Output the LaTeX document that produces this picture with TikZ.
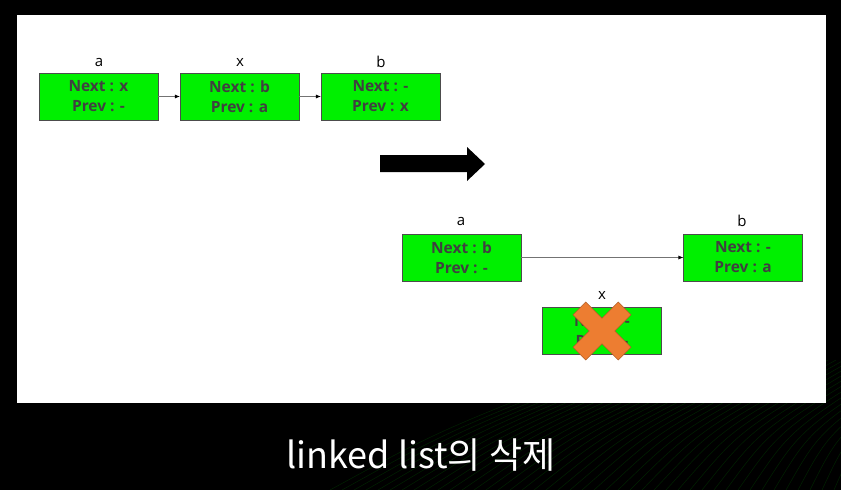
\documentclass[tikz,border=0pt]{standalone}
\usepackage{fontspec}
\setmainfont{Open Sans}
\newfontfamily\krfont{Noto Sans CJK KR}
\usetikzlibrary{arrows.meta}
\definecolor{cellgreen}{RGB}{0,240,0}
\definecolor{crossorange}{RGB}{237,125,49}
\begin{document}
\begin{tikzpicture}[x=1pt, y=-1pt,
    cell/.style={draw=black!70, fill=cellgreen, minimum width=119pt, minimum height=47pt,
      inner sep=0pt, align=center, text=black!75, font=\bfseries\fontsize{15.5}{20}\selectfont},
    tag/.style={font=\fontsize{15}{16}\selectfont},
    link/.style={draw=black!55, -{Latex[length=5pt,width=4pt,color=black]}}]
  \useasboundingbox (0,0) rectangle (841,490);
  \fill[black] (0,0) rectangle (841,490);
  % streaks behind the slide
  \foreach \i in {0,...,44} {
    \draw[green!45!black, opacity=0.3, line width=0.5pt]
      (330+\i*12,490) .. controls (440+\i*10,430) .. (620+\i*8,360);
  }
  \fill[white] (17,15) rectangle (826,403);

  % before
  \node[cell] (a1) at (98.5,96.5) {Next : x\\Prev : -};
  \node[cell] (x1) at (239.5,96.5) {Next : b\\Prev : a};
  \node[cell] (b1) at (380.5,96.5) {Next : -\\Prev : x};
  \node[tag] (ta1) at (99,62) {a};
  \node[tag] (tx1) at (240,62) {x};
  \node[tag] (tb1) at (381,62) {b};
  \draw[link] (a1) -- (x1);
  \draw[link] (x1) -- (b1);

  \fill[black] (380,155) -- (467,155) -- (467,147) -- (485,164) -- (467,181)
    -- (467,172) -- (380,172) -- cycle;

  % after
  \node[cell] (a2) at (461.5,257.5) {Next : b\\Prev : -};
  \node[cell] (b2) at (743,257.5) {Next : -\\Prev : a};
  \node[cell] (x2) at (602,331) {Next : -\\Prev : -};
  \node[tag] (ta2) at (461,221) {a};
  \node[tag] (tb2) at (742,221) {b};
  \node[tag] (tx2) at (602,295) {x};
  \draw[link] (a2) -- (b2);

  \begin{scope}[shift={(x2.center)}, rotate=45]
    \filldraw[fill=crossorange, draw=crossorange!75!black, line width=0.6pt]
      (32,9) -- (9,9) -- (9,32) -- (-9,32) -- (-9,9) -- (-32,9) -- (-32,-9)
      -- (-9,-9) -- (-9,-32) -- (9,-32) -- (9,-9) -- (32,-9) -- cycle;
  \end{scope}

  \node[text=white, font=\krfont\fontsize{36}{38}\selectfont] (cap) at (421,455) {linked list의 삭제};
\end{tikzpicture}
\end{document}
